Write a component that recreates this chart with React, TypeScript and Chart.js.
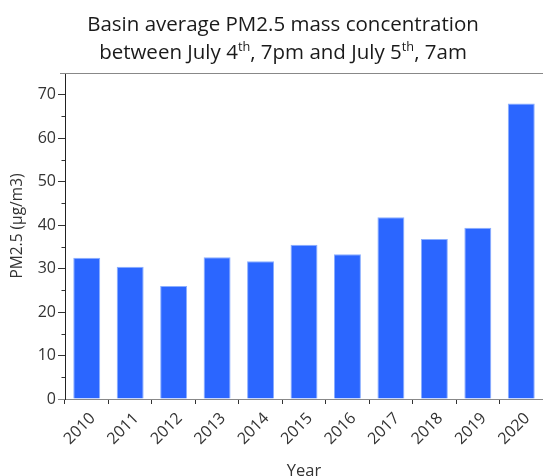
import React, { useEffect, useRef } from "react";
import { Chart, registerables } from "chart.js";

Chart.register(...registerables);

const years = ["2010", "2011", "2012", "2013", "2014", "2015", "2016", "2017", "2018", "2019", "2020"];
const pm25 = [32.5, 30.4, 26.0, 32.6, 31.7, 35.5, 33.3, 41.8, 36.8, 39.4, 68.0];
const yTicks = [0, 10, 20, 30, 40, 50, 60, 70];
const yMinorTicks = [5, 15, 25, 35, 45, 55, 65];
const yMax = 75;
const yTitle = "PM2.5 (µg/m3)";
const xTitle = "Year";

const FONT = "'Open Sans', 'DejaVu Sans', sans-serif";
const TEXT = "#333333";

const decorPlugin = {
  id: "decor",
  afterDraw(chart: any) {
    const { ctx, chartArea, scales } = chart;
    const y = scales.y;
    ctx.save();
    ctx.strokeStyle = "#888888";
    ctx.lineWidth = 1;
    const yt = Math.round(y.getPixelForValue(yMax)) + 0.5;
    ctx.beginPath();
    ctx.moveTo(chartArea.left - 5, yt);
    ctx.lineTo(chartArea.right, yt);
    ctx.stroke();
    ctx.strokeStyle = "#333333";
    for (const v of yMinorTicks) {
      const p = Math.round(y.getPixelForValue(v)) + 0.5;
      ctx.beginPath();
      ctx.moveTo(chartArea.left - 3.5, p);
      ctx.lineTo(chartArea.left, p);
      ctx.stroke();
    }
    ctx.fillStyle = TEXT;
    ctx.font = `15.5px ${FONT}`;
    ctx.textAlign = "center";
    ctx.textBaseline = "middle";
    ctx.translate(18, 226);
    ctx.rotate(-Math.PI / 2);
    ctx.fillText(yTitle, 0, 0);
    ctx.restore();
  },
};

export default function App() {
  const ref = useRef<HTMLCanvasElement | null>(null);

  useEffect(() => {
    if (!ref.current) return;
    const chart = new Chart(ref.current, {
      type: "bar",
      data: {
        labels: years,
        datasets: [
          {
            data: pm25,
            backgroundColor: "#2B66FF",
            borderColor: "#8AAEFF",
            borderWidth: 1,
            barPercentage: 0.62,
            categoryPercentage: 1,
          },
        ],
      },
      options: {
        responsive: false,
        animation: false,
        devicePixelRatio: 1,
        layout: { padding: { top: 73, left: 0, right: 0, bottom: 0 } },
        plugins: { legend: { display: false }, tooltip: { enabled: false }, title: { display: false } },
        scales: {
          x: {
            offset: true,
            grid: { display: true, drawOnChartArea: false, drawTicks: true, tickLength: 5, tickColor: "#333333" },
            border: { display: true, color: "#888888", width: 1 },
            ticks: {
              autoSkip: false,
              maxRotation: 45,
              minRotation: 45,
              color: TEXT,
              padding: 5,
              labelOffset: 6,
              font: { family: FONT, size: 16 },
            },
            title: {
              display: true,
              text: xTitle,
              color: TEXT,
              font: { family: FONT, size: 16.5 },
              padding: { top: 0, bottom: -5 },
            },
            afterFit(scale: any) {
              scale.height = 77;
            },
          },
          y: {
            min: 0,
            max: yMax,
            ticks: {
              stepSize: 10,
              color: TEXT,
              padding: 2,
              font: { family: FONT, size: 16 },
            },
            afterBuildTicks(scale: any) {
              scale.ticks = yTicks.map((v) => ({ value: v }));
            },
            grid: {
              display: true,
              drawOnChartArea: false,
              drawTicks: true,
              tickLength: 7,
              tickColor: (c: any) => (c.tick && c.tick.value === 0 ? "#888888" : "#333333"),
            },
            border: { display: true, color: "#222222", width: 1 },
            afterFit(scale: any) {
              scale.width = 65;
            },
          },
        },
      },
      plugins: [decorPlugin],
    });
    return () => chart.destroy();
  }, []);

  const supStyle = { fontSize: "0.62em", lineHeight: 0, verticalAlign: "0.62em" } as const;

  return (
    <div style={{ position: "absolute", left: 0, top: 0, width: 543, height: 476, background: "#fff" }}>
      <canvas ref={ref} width={543} height={476} style={{ position: "absolute", left: 0, top: 0 }} />
      <div
        style={{
          position: "absolute",
          left: 0,
          top: 10,
          width: 566,
          textAlign: "center",
          fontFamily: FONT,
          fontSize: 20.5,
          lineHeight: "27.5px",
          color: "#1a1a1a",
        }}
      >
        <div>Basin average PM2.5 mass concentration</div>
        <div>
          between July 4<sup style={supStyle}>th</sup>, 7pm and July 5<sup style={supStyle}>th</sup>, 7am
        </div>
      </div>
    </div>
  );
}
